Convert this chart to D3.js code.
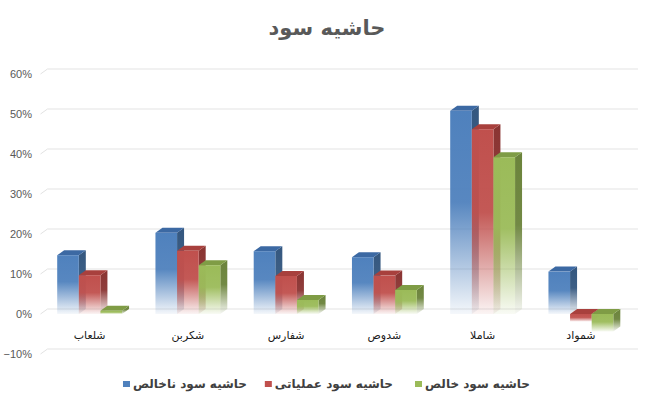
<!DOCTYPE html>
<html>
<head>
<meta charset="utf-8">
<script src="https://cdn.jsdelivr.net/npm/d3@7"></script>
<style>
  body { margin: 0; background: #fff; }
  text { font-family: "DejaVu Sans", "Noto Sans", sans-serif; }
</style>
</head>
<body>
<div class="chart"></div>
<script>
// data
var categories = ["شلعاب", "شکربن", "شفارس", "شدوص", "شاملا", "شمواد"];
var seriesNames = ["حاشیه سود ناخالص", "حاشیه سود عملیاتی", "حاشیه سود خالص"];
var grossMargin = [0.147, 0.203, 0.157, 0.142, 0.508, 0.106];
var operatingMargin = [0.097, 0.158, 0.095, 0.096, 0.462, -0.019];
var netMargin = [0.008, 0.122, 0.035, 0.060, 0.392, -0.044];
var yTicks = [-0.1, 0, 0.1, 0.2, 0.3, 0.4, 0.5, 0.6];
var titleText = "حاشیه سود";

var width = 656, height = 397;
var depthX = 7, depthY = -5;

var colors = [
  {front: "#4f81bd", top: "#3c69a3", side: "#34577f"},
  {front: "#c0504d", top: "#a8403d", side: "#8a3432"},
  {front: "#9bbb59", top: "#7f9c45", side: "#6b833b"}
];

var seriesValues = [grossMargin, operatingMargin, netMargin];

var svg = d3.select(".chart")
  .append("svg")
  .attr("width", width)
  .attr("height", height);

// gradients: solid on top, fading to white at the bottom
var defs = svg.append("defs");
colors.forEach(function(c, i) {
  ["front", "side"].forEach(function(face) {
    var g = defs.append("linearGradient")
      .attr("id", "grad-" + face + "-" + i)
      .attr("x1", 0).attr("y1", 0).attr("x2", 0).attr("y2", 1);
    g.append("stop").attr("offset", 0).attr("stop-color", c[face]).attr("stop-opacity", 1);
    g.append("stop").attr("offset", 0.45).attr("stop-color", c[face]).attr("stop-opacity", 0.95);
    g.append("stop").attr("offset", 1).attr("stop-color", c[face]).attr("stop-opacity", 0.06);
  });
});

var x = d3.scaleBand()
  .domain(categories)
  .range([40.5, 630])
  .paddingInner(0.34)
  .paddingOuter(0.17);

var xInner = d3.scaleBand()
  .domain(d3.range(seriesNames.length))
  .range([0, x.bandwidth()]);

var y = d3.scaleLinear()
  .domain([-0.1, 0.6])
  .range([354, 74]);

// title
svg.append("text")
  .attr("x", 327)
  .attr("y", 35)
  .attr("text-anchor", "middle")
  .attr("font-size", "21px")
  .attr("font-weight", "bold")
  .attr("fill", "#595959")
  .text(titleText);

// back wall gridlines with small floor edge
var grid = svg.append("g");
yTicks.forEach(function(t) {
  grid.append("path")
    .attr("d", "M40.5," + y(t) + "L" + (40.5 + depthX) + "," + (y(t) + depthY) +
               "L638," + (y(t) + depthY))
    .attr("fill", "none")
    .attr("stroke", "#e3e3e3")
    .attr("stroke-width", 1);
});

// y tick labels
svg.append("g").selectAll("text")
  .data(yTicks)
  .enter()
  .append("text")
  .attr("x", 32)
  .attr("y", function(d) { return y(d); })
  .attr("dy", "0.35em")
  .attr("text-anchor", "end")
  .attr("font-size", "11px")
  .style("font-family", "'Liberation Sans', Arial, sans-serif")
  .attr("fill", "#595959")
  .text(function(d) { return d3.format(".0%")(d); });

// bars, left to right so each front covers the previous side
var bars = svg.append("g");
categories.forEach(function(cat, ci) {
  seriesValues.forEach(function(vals, si) {
    var v = vals[ci];
    var x0 = x(cat) + xInner(si);
    var w = xInner.bandwidth();
    var yTop = Math.min(y(v), y(0));
    var yBot = Math.max(y(v), y(0));
    var h = yBot - yTop;

    // side face
    bars.append("path")
      .attr("d", "M" + (x0 + w) + "," + yTop +
                 "L" + (x0 + w + depthX) + "," + (yTop + depthY) +
                 "L" + (x0 + w + depthX) + "," + (yBot + depthY) +
                 "L" + (x0 + w) + "," + yBot + "Z")
      .attr("fill", "url(#grad-side-" + si + ")");

    // top face
    bars.append("path")
      .attr("d", "M" + x0 + "," + yTop +
                 "L" + (x0 + depthX) + "," + (yTop + depthY) +
                 "L" + (x0 + w + depthX) + "," + (yTop + depthY) +
                 "L" + (x0 + w) + "," + yTop + "Z")
      .attr("fill", colors[si].top);

    // front face
    bars.append("rect")
      .attr("x", x0)
      .attr("y", yTop)
      .attr("width", w)
      .attr("height", Math.max(h, 0.5))
      .attr("fill", "url(#grad-front-" + si + ")");
  });
});

// category labels
svg.append("g").selectAll("text")
  .data(categories)
  .enter()
  .append("text")
  .attr("x", function(d) { return x(d) + x.bandwidth() / 2; })
  .attr("y", 339)
  .attr("text-anchor", "middle")
  .attr("font-size", "11px")
  .attr("fill", "#1a1a1a")
  .text(function(d) { return d; });

// legend
var legendRight = [247, 393, 530];
var legend = svg.append("g");
seriesNames.forEach(function(name, i) {
  var t = legend.append("text")
    .attr("x", legendRight[i])
    .attr("y", 384)
    .attr("dy", "0.35em")
    .attr("text-anchor", "end")
    .attr("font-size", "12px")
    .attr("font-weight", "bold")
    .attr("fill", "#404040")
    .text(name);
  var tw = t.node().getComputedTextLength();
  legend.append("rect")
    .attr("x", legendRight[i] - tw - 10)
    .attr("y", 381)
    .attr("width", 7)
    .attr("height", 6)
    .attr("fill", colors[i].front);
});
</script>
</body>
</html>
